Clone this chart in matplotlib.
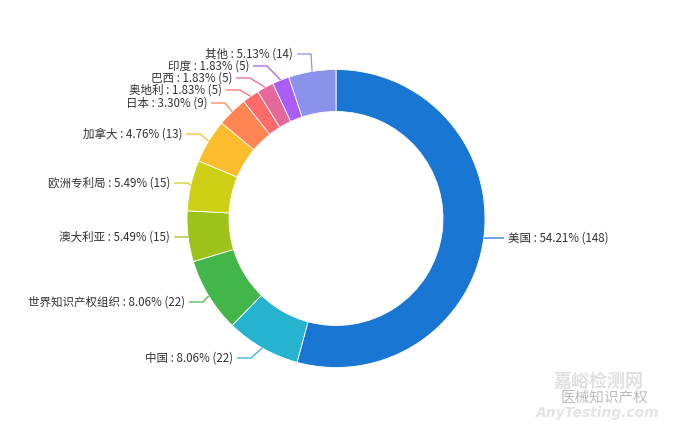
import numpy as np
import matplotlib
matplotlib.use("Agg")
import matplotlib.pyplot as plt

plt.rcParams['font.family'] = ['Noto Sans CJK SC', 'DejaVu Sans']

names = ["美国", "中国", "世界知识产权组织", "澳大利亚", "欧洲专利局", "加拿大",
         "日本", "奥地利", "巴西", "印度", "其他"]
counts = [148, 22, 22, 15, 15, 13, 9, 5, 5, 5, 14]
colors = ["#1976D2", "#26B3D0", "#43B649", "#9DC31A", "#CDD015", "#FBBC2D",
          "#FF8552", "#FF6B6B", "#E4699A", "#AA5EF5", "#8A92EC"]

# label layout in image pixels: (label y, elbow x)
label_pos = [(238, 490), (358, 251), (302, 203), (237, 188), (183, 188), (134, 200),
             (103, 225), (90, 240), (78, 250), (66, 267), (54, 311)]

W, H = 680, 428
cx, cy, r_out, width = 336, H - 218.5, 149, 42

fig = plt.figure(figsize=(W / 100, H / 100), dpi=100)
ax = fig.add_axes([0, 0, 1, 1])

wedges, _ = ax.pie(counts, colors=colors, startangle=90, counterclock=False,
                   center=(cx, cy), radius=r_out,
                   wedgeprops=dict(width=width, edgecolor="white", linewidth=0.6))

# pie resets the limits, so set them afterwards
ax.set_xlim(0, W)
ax.set_ylim(0, H)
ax.set_aspect("equal")
ax.axis("off")

total = sum(counts)
for w, name, n, col, (ly, ex) in zip(wedges, names, counts, colors, label_pos):
    ang = np.deg2rad((w.theta1 + w.theta2) / 2)
    sx, sy = cx + r_out * np.cos(ang), cy + r_out * np.sin(ang)
    ey = H - ly
    right = sx > cx
    hx = ex + 14 if right else ex - 14
    ax.plot([sx, ex, hx], [sy, ey, ey], color=col, lw=0.9, solid_capstyle="butt")
    tx = hx + 4 if right else hx - 4
    ax.text(tx, ey, f"{name} : {n / total * 100:.2f}% ({n})", fontsize=8.3,
            color="#333333", ha="left" if right else "right", va="center")

# watermark
ax.text(598, H - 381, "嘉峪检测网", fontsize=13, fontweight="bold", color="#e0e0e0",
        ha="center", va="center")
ax.text(605, H - 398, "医械知识产权", fontsize=10.5, color="#bbbbbb",
        ha="center", va="center")
ax.text(598, H - 413, "AnyTesting.com", fontsize=10, fontweight="bold",
        fontstyle="italic", color="#e4e4e4", ha="center", va="center",
        family="DejaVu Sans")

fig.savefig("out.png", dpi=100)
